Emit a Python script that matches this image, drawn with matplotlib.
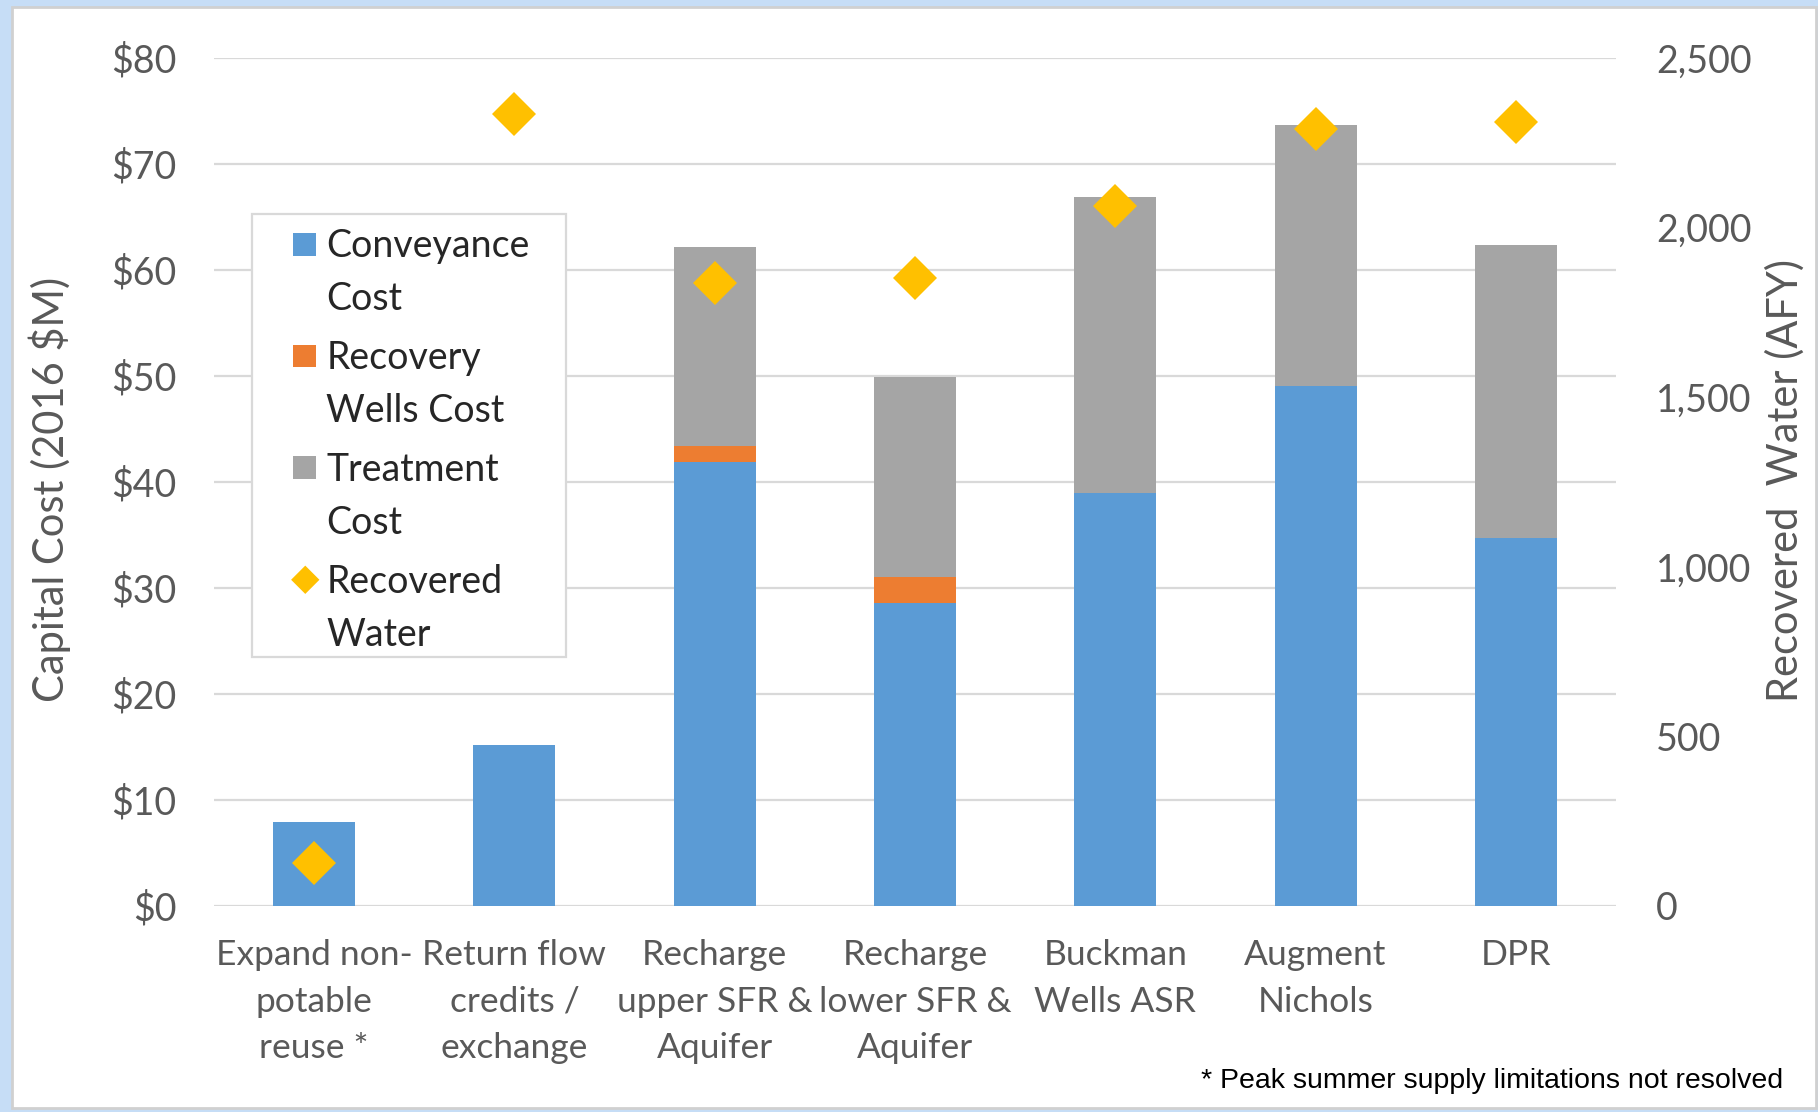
import matplotlib
matplotlib.use("Agg")
import matplotlib.pyplot as plt
import matplotlib.patches as mpatches
import matplotlib.ticker as ticker
from matplotlib.legend_handler import HandlerPatch
import numpy as np

# dados
PROJETOS = [
    "Expand non-\npotable\nreuse *",
    "Return flow\ncredits /\nexchange",
    "Recharge\nupper SFR &\nAquifer",
    "Recharge\nlower SFR &\nAquifer",
    "Buckman\nWells ASR",
    "Augment\nNichols",
    "DPR",
]
CONVEYANCE = [7.9, 15.2, 41.9, 28.6, 39.0, 49.1, 34.7]
RECOVERY_WELLS = [0.0, 0.0, 1.5, 2.4, 0.0, 0.0, 0.0]
TREATMENT = [0.0, 0.0, 18.8, 18.9, 27.9, 24.6, 27.7]
RECOVERED_WATER = [127, 2335, 1838, 1850, 2064, 2291, 2310]

COR_CONV = "#5b9bd5"
COR_REC = "#ed7d31"
COR_TRAT = "#a5a5a5"
COR_AGUA = "#ffc000"
COR_TEXTO = "#595959"
COR_GRADE = "#d9d9d9"

FONTE = ["Lato", "DejaVu Sans"]
plt.rcParams["font.family"] = FONTE
TAM = 27

W, H = 1818, 1112
fig = plt.figure(figsize=(W / 100, H / 100), dpi=100)
fig.patch.set_facecolor("#c6ddf6")
fig.patches.append(mpatches.Rectangle(
    (12 / W, 1 - 1108 / H), (1816 - 12) / W, (1108 - 7) / H,
    transform=fig.transFigure, facecolor="white", edgecolor="#d0d0d0",
    linewidth=2, zorder=-1))

ax = fig.add_axes([214 / W, 1 - 906 / H, (1616 - 214) / W, (906 - 58) / H])
ax.set_facecolor("none")
x = np.arange(len(PROJETOS))
larg = 0.41

conv = np.array(CONVEYANCE)
rec = np.array(RECOVERY_WELLS)
trat = np.array(TREATMENT)

ax.bar(x, conv, larg, color=COR_CONV, zorder=2)
ax.bar(x, rec, larg, bottom=conv, color=COR_REC, zorder=2)
ax.bar(x, trat, larg, bottom=conv + rec, color=COR_TRAT, zorder=2)

ax.set_xlim(-0.5, len(PROJETOS) - 0.5)
ax.set_ylim(0, 80)
ax.set_yticks(np.arange(0, 81, 10))
ax.yaxis.set_major_formatter(ticker.FuncFormatter(lambda v, _: f"${v:.0f}"))
ax.grid(axis="y", color=COR_GRADE, linewidth=1.6, zorder=0)
ax.set_axisbelow(True)
for s in ax.spines.values():
    s.set_visible(False)
ax.tick_params(axis="y", length=0, pad=27, labelsize=TAM, labelcolor=COR_TEXTO)
ax.tick_params(axis="x", length=0, pad=24, labelsize=25.5, labelcolor=COR_TEXTO)
ax.set_xticks(x)
ax.set_xticklabels(PROJETOS)
for lbl in ax.get_xticklabels():
    lbl.set_linespacing(1.55)
ax.set_ylabel("Capital Cost (2016 $M)", fontsize=30, color=COR_TEXTO)
ax.yaxis.set_label_coords(50 / W, 1 - 489 / H, transform=fig.transFigure)
ax.yaxis.label.set_va("center")

ax2 = ax.twinx()
ax2.set_ylim(0, 2500)
ax2.set_yticks(np.arange(0, 2501, 500))
ax2.yaxis.set_major_formatter(ticker.FuncFormatter(lambda v, _: f"{v:,.0f}"))
for s in ax2.spines.values():
    s.set_visible(False)
ax2.tick_params(axis="y", length=0, pad=29, labelsize=TAM, labelcolor=COR_TEXTO)
ax2.plot(x, RECOVERED_WATER, linestyle="none", marker="D", markersize=22.5,
         color=COR_AGUA, markeredgewidth=0, zorder=3)
ax2.set_ylabel("Recovered  Water (AFY)", fontsize=30, color=COR_TEXTO,
               rotation=90)
ax2.yaxis.set_label_coords(1785 / W, 1 - 481 / H, transform=fig.transFigure)
ax2.yaxis.label.set_va("center")


# legenda: marcador alinhado com a primeira linha do texto
def marcador(forma):
    def f(legend, orig_handle, xdescent, ydescent, width, height, fontsize):
        yc = -ydescent + height / 2 + 0.8 * fontsize
        if forma == "quadrado":
            s = 16.5
            return mpatches.Rectangle((-xdescent + width - s, yc - s / 2), s, s)
        h = 10.2
        cx = -xdescent + width - 8
        return mpatches.Polygon([[cx - h, yc], [cx, yc + h], [cx + h, yc], [cx, yc - h]])
    return f


handles = [
    mpatches.Patch(facecolor=COR_CONV, edgecolor="none"),
    mpatches.Patch(facecolor=COR_REC, edgecolor="none"),
    mpatches.Patch(facecolor=COR_TRAT, edgecolor="none"),
    mpatches.Patch(facecolor=COR_AGUA, edgecolor="none"),
]
labels = ["Conveyance\nCost", "Recovery\nWells Cost", "Treatment\nCost", "Recovered\nWater"]
hmap = {h: HandlerPatch(patch_func=marcador("quadrado")) for h in handles[:3]}
hmap[handles[3]] = HandlerPatch(patch_func=marcador("diamante"))
leg = fig.legend(handles, labels, handler_map=hmap, loc="upper left",
                 bbox_to_anchor=(262 / W, 1 - 228 / H), frameon=False,
                 borderpad=0, borderaxespad=0, fontsize=TAM, handlelength=1.45,
                 handletextpad=0.27, labelspacing=0.6)
for t in leg.get_texts():
    t.set_color("#262626")
    t.set_linespacing(1.6)
fig.patches.append(mpatches.Rectangle(
    (252 / W, 1 - 657 / H), (566 - 252) / W, (657 - 214) / H,
    transform=fig.transFigure, facecolor="white", edgecolor=COR_GRADE,
    linewidth=1.6, zorder=1))

fig.text(1783 / W, 1 - 1081 / H, "* Peak summer supply limitations not resolved",
         ha="right", va="center", fontsize=20.5, color="black",
         family=["Liberation Sans Narrow", "Liberation Sans"])

fig.savefig("out.png", dpi=100, facecolor=fig.get_facecolor())
